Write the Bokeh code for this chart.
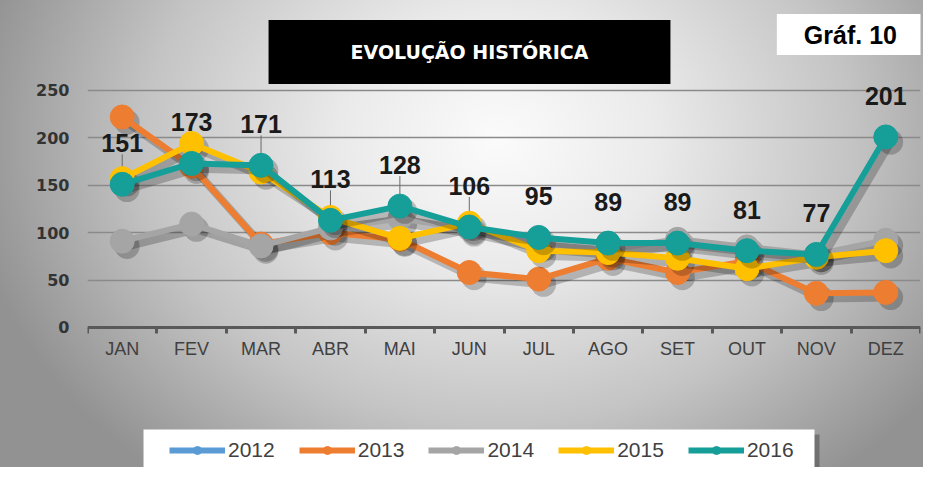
from bokeh.plotting import figure
from bokeh.models import (ColumnDataSource, Range1d, FactorRange, LinearAxis, CategoricalAxis,
                          FixedTicker, Label, Legend, LegendItem, BoxAnnotation)
from bokeh.transform import dodge
from bokeh.core.properties import value
from bokeh.embed import file_html
from bokeh.resources import INLINE

nan = float("nan")
months = ["JAN", "FEV", "MAR", "ABR", "MAI", "JUN", "JUL", "AGO", "SET", "OUT", "NOV", "DEZ"]
years = ["2012", "2013", "2014", "2015", "2016"]
v2012 = [nan] * 12
v2013 = [222, 170, 88, 100, 93, 58, 51, 73, 58, 70, 36, 37]
v2014 = [91, 109, 86, 105, 115, 104, 88, 82, 93, 85, 77, 92]
v2015 = [157, 194, 164, 116, 94, 110, 81, 79, 73, 62, 74, 81]
v2016 = [151, 173, 171, 113, 128, 106, 95, 89, 89, 81, 77, 201]
y_ticks = [0, 50, 100, 150, 200, 250]
title_text = "EVOLUÇÃO HISTÓRICA"
badge_text = "Gráf. 10"

series = [v2012, v2013, v2014, v2015, v2016]
colors = ["#5B9BD5", "#ED7D31", "#A5A5A5", "#FFC000", "#169E98"]

p = figure(width=923, height=467,
           x_range=FactorRange(*months), y_range=Range1d(-147.7, 344.9),
           output_backend="svg", toolbar_location=None, x_axis_location=None,
           min_border_left=87, min_border_right=3, min_border_top=0, min_border_bottom=0)
p.styles = {"background": "radial-gradient(ellipse 58% 92% at 54% 30%, #fbfbfb 0%, #eaeaea 30%, #c4c4c4 66%, #929292 100%)"}
p.background_fill_alpha = 0
p.border_fill_alpha = 0
p.outline_line_color = None

# y axis
p.yaxis.ticker = FixedTicker(ticks=y_ticks)
p.yaxis.axis_line_color = None
p.yaxis.major_tick_line_color = None
p.yaxis.major_tick_out = 0
p.yaxis.minor_tick_line_color = None
p.yaxis.major_label_standoff = 18
p.yaxis.major_label_text_font = "DejaVu Sans"
p.yaxis.major_label_text_font_style = "bold"
p.yaxis.major_label_text_font_size = "16px"
p.yaxis.major_label_text_color = "#333333"
p.ygrid.ticker = FixedTicker(ticks=y_ticks[1:])
p.ygrid.grid_line_color = "#8a8a8a"
p.ygrid.grid_line_width = 1.5
p.xgrid.grid_line_color = None

# x axis at y = 0: line with ticks at category boundaries, then month labels
bounds = list(range(len(months) + 1))
tick_axis = LinearAxis(ticker=FixedTicker(ticks=bounds), fixed_location=0)
tick_axis.axis_line_color = "#595959"
tick_axis.axis_line_width = 3
tick_axis.major_tick_line_color = "#595959"
tick_axis.major_tick_line_width = 3
tick_axis.major_tick_in = 0
tick_axis.major_tick_out = 6
tick_axis.minor_tick_line_color = None
tick_axis.major_label_overrides = {b: "" for b in bounds}
p.add_layout(tick_axis, "below")

cat_axis = CategoricalAxis(fixed_location=0)
cat_axis.axis_line_color = None
cat_axis.major_tick_line_color = None
cat_axis.major_tick_out = 0
cat_axis.major_label_standoff = 12
cat_axis.major_label_text_font = "Liberation Sans"
cat_axis.major_label_text_font_size = "18px"
cat_axis.major_label_text_color = "#404040"
p.add_layout(cat_axis, "below")

# leader lines for the 2016 labels
p.ray(x=months[:6], y=v2016[:6], length=30, length_units="screen", angle=90, angle_units="deg",
      line_color="#6a6a6a", line_width=1)

items = []
for yr, vals, col in zip(years, series, colors):
    src = ColumnDataSource(dict(month=months, v=vals))
    # soft drop shadow
    p.line(x=dodge("month", 0.07, range=p.x_range), y=dodge("v", -5.5), source=src,
           line_color="black", line_alpha=0.22, line_width=8)
    p.scatter(x=dodge("month", 0.07, range=p.x_range), y=dodge("v", -5.5), source=src,
              size=25, fill_color="black", fill_alpha=0.22, line_color=None)
    lr = p.line(x="month", y="v", source=src, line_color=col, line_width=6, line_join="round")
    mr = p.scatter(x="month", y="v", source=src, size=24, fill_color=col, line_color=col)
    items.append(LegendItem(label=yr, renderers=[lr, mr]))

lbl_src = ColumnDataSource(dict(month=months, v=v2016, lbl=[str(v) for v in v2016]))
p.text(x="month", y="v", text="lbl", source=lbl_src, text_font=value("Liberation Sans"),
       text_font_style="bold", text_font_size="25px", text_color="#1a1a1a",
       text_align="center", text_baseline="middle", y_offset=-41)

# legend panel (white box with drop shadow) behind the legend entries
p.add_layout(BoxAnnotation(left=0.879, right=10.545, top=-112.9, bottom=-150,
                           fill_color="#333333", fill_alpha=0.4, line_color=None))
p.add_layout(BoxAnnotation(left=0.807, right=10.473, top=-107.6, bottom=-148.7,
                           fill_color="white", fill_alpha=1, line_color=None))

legend = Legend(items=items, orientation="horizontal", location=(82, 5))
legend.glyph_width = 56
legend.glyph_height = 20
legend.label_standoff = 3
legend.spacing = 24
legend.padding = 9
legend.margin = 0
legend.label_height = 20
legend.label_text_font = "Liberation Sans"
legend.label_text_font_size = "21px"
legend.label_text_color = "#404040"
legend.background_fill_alpha = 0
legend.border_line_color = None
p.add_layout(legend)

pad_title = dict(left=82, right=82, top=21, bottom=21)
title_shadow = Label(x=5.503, y=290.6, text=title_text, text_font="DejaVu Sans", text_font_style="bold",
                     text_font_size="19px", text_alpha=0, text_align="center", text_baseline="middle",
                     background_fill_color="#333333", background_fill_alpha=0.35,
                     x_offset=4, y_offset=-4, padding=pad_title)
p.add_layout(title_shadow)
title = Label(x=5.503, y=290.6, text=title_text, text_font="DejaVu Sans", text_font_style="bold",
              text_font_size="19px", text_color="white", text_align="center", text_baseline="middle",
              background_fill_color="black", padding=pad_title)
p.add_layout(title)

badge = Label(x=10.99, y=309.1, text=badge_text, text_font="Liberation Sans", text_font_style="bold",
              text_font_size="25px", text_color="black", text_align="center", text_baseline="middle",
              background_fill_color="white", padding=dict(left=27, right=27, top=7, bottom=6))
p.add_layout(badge)

open("out.html", "w").write(file_html(p, INLINE))
